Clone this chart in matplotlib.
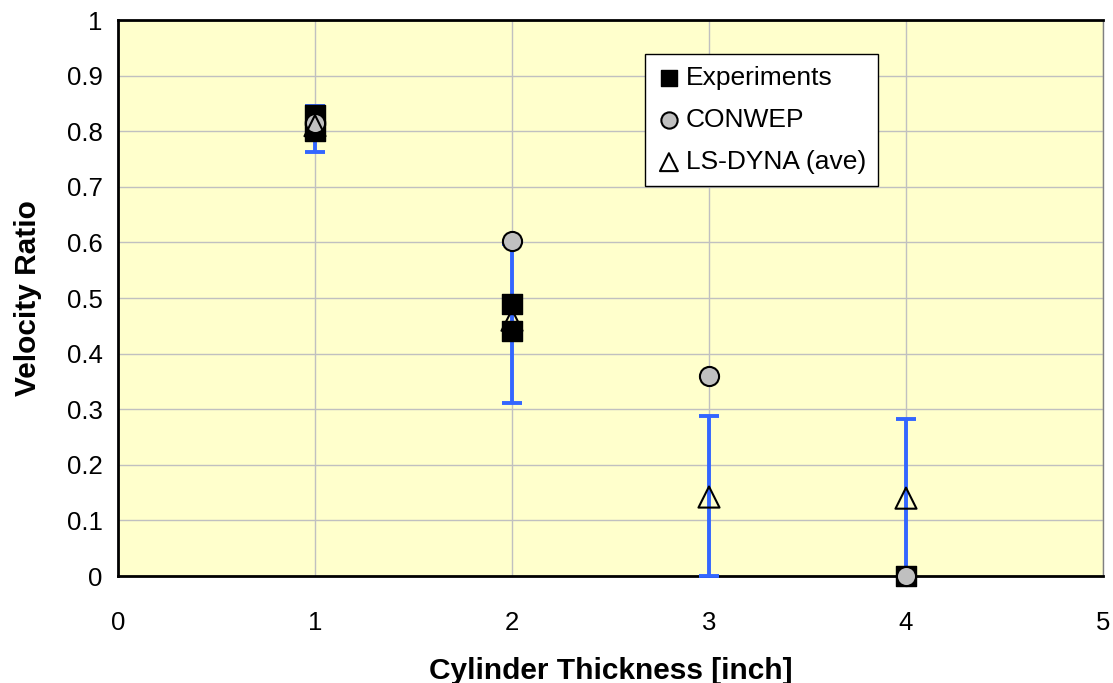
import matplotlib.pyplot as plt

plt.rcParams['font.family'] = ['Liberation Sans', 'DejaVu Sans']

# experiments (two shots at 1" and 2", none through at 4")
exp_x = [1, 1, 2, 2, 4]
exp_y = [0.83, 0.80, 0.49, 0.44, 0.0]

conwep_x = [1, 2, 3, 4]
conwep_y = [0.815, 0.602, 0.36, 0.0]

dyna_x = [1, 2, 3, 4]
dyna_y = [0.81, 0.46, 0.142, 0.14]
dyna_lo = [0.763, 0.311, 0.0, 0.0]
dyna_hi = [0.845, 0.598, 0.288, 0.282]

fig = plt.figure(figsize=(11.13, 6.83), dpi=100)
ax = fig.add_axes([118 / 1113, 107 / 683, 985 / 1113, 556 / 683])
ax.set_facecolor('#FFFFCC')

err = [[y - lo for y, lo in zip(dyna_y, dyna_lo)],
       [hi - y for y, hi in zip(dyna_y, dyna_hi)]]
ax.errorbar(dyna_x, dyna_y, yerr=err, fmt='none', ecolor='#3366FF',
            elinewidth=2.8, capsize=7, capthick=2.8, zorder=3, clip_on=False)

ax.scatter(exp_x, exp_y, marker='s', s=200, c='black', edgecolors='black',
           zorder=4, clip_on=False, label='Experiments')
ax.scatter(conwep_x, conwep_y, marker='o', s=190, c='#C0C0C0',
           edgecolors='black', linewidths=1.5, zorder=5, clip_on=False,
           label='CONWEP')
ax.scatter(dyna_x, dyna_y, marker='^', s=230, facecolors='none',
           edgecolors='black', linewidths=1.5, zorder=6, clip_on=False,
           label='LS-DYNA (ave)')

ax.set_xlim(0, 5)
ax.set_ylim(0, 1)
ax.set_xticks(range(6))
ax.set_yticks([i / 10 for i in range(11)])
ax.set_yticklabels(['0', '0.1', '0.2', '0.3', '0.4', '0.5', '0.6', '0.7',
                    '0.8', '0.9', '1'])
ax.tick_params(length=0, labelsize=18.5)
ax.tick_params(axis='x', pad=25)
ax.tick_params(axis='y', pad=11)
ax.grid(True, color='#C0C0C0', linewidth=1)
ax.set_axisbelow(True)

for s in ['left', 'bottom', 'top']:
    ax.spines[s].set_color('black')
    ax.spines[s].set_linewidth(2)
ax.spines['right'].set_color('#808080')
ax.spines['right'].set_linewidth(1)

ax.set_xlabel('Cylinder Thickness [inch]', fontsize=21.5, fontweight='bold',
              labelpad=16)
ax.set_ylabel('Velocity Ratio', fontsize=21.5, fontweight='bold', labelpad=18)

leg = ax.legend(loc='upper left', bbox_to_anchor=(0.5218, 0.962),
                fontsize=19, frameon=True, fancybox=False, framealpha=1,
                edgecolor='black', handletextpad=0.2, borderpad=0.45,
                labelspacing=0.68, handlelength=0.9, markerscale=0.85)
leg.get_frame().set_linewidth(1)

fig.savefig('out.png', dpi=100)
